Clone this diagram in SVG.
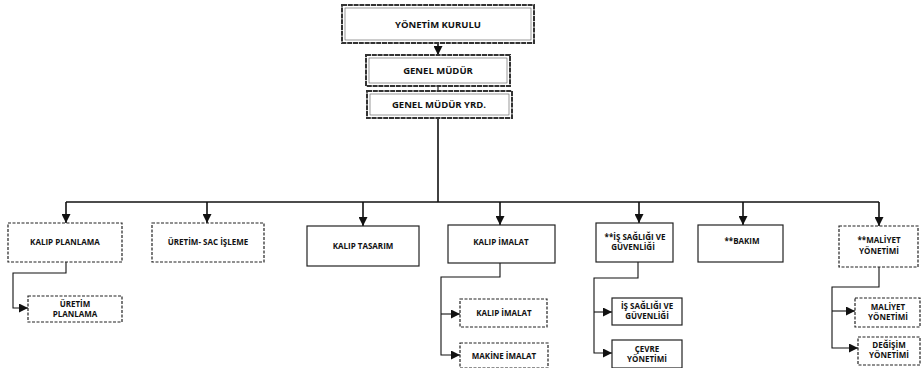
<svg xmlns="http://www.w3.org/2000/svg" width="922" height="368" viewBox="0 0 922 368">
<defs>
<marker id="arr" viewBox="0 0 10 10" refX="10" refY="5" markerWidth="9" markerHeight="9" markerUnits="userSpaceOnUse" orient="auto">
<path d="M0,0 L10,5 L0,10 z" fill="#111"/>
</marker>
</defs>
<style>
.box{fill:#fff;stroke:#222;stroke-width:1.2}
.dash{stroke-dasharray:3 1.5}
.dbl{fill:#fff;stroke:#333;stroke-width:2;stroke-dasharray:5 0.8}
.inner{fill:none;stroke:#555;stroke-width:0.6}
text{font-family:"Open Sans","Liberation Sans",sans-serif;font-weight:700;fill:#111;text-anchor:middle;font-size:8px}
.big{font-size:9.5px}
.line{fill:none;stroke:#111;stroke-width:1.6}
.thin{fill:none;stroke:#111;stroke-width:1.1}
</style>
<rect width="922" height="368" fill="#fff"/>
<g id="connectors">
<path class="line" d="M438,43 V55" marker-end="url(#arr)"/>
<path class="thin" d="M438,86 V91"/>
<path class="line" d="M438,118 V202"/>
<path class="line" d="M66,202 H879"/>
<path class="line" d="M66,202 V223" marker-end="url(#arr)"/>
<path class="line" d="M207,202 V223" marker-end="url(#arr)"/>
<path class="line" d="M363,202 V226" marker-end="url(#arr)"/>
<path class="line" d="M500,202 V225" marker-end="url(#arr)"/>
<path class="line" d="M639,202 V223" marker-end="url(#arr)"/>
<path class="line" d="M743,202 V225" marker-end="url(#arr)"/>
<path class="line" d="M879,202 V226" marker-end="url(#arr)"/>
<path class="thin" d="M66,262 V273 H13 V308 H28" marker-end="url(#arr)"/>
<path class="thin" d="M500,263 V277 H441 V355 H460" marker-end="url(#arr)"/>
<path class="thin" d="M441,314 H460" marker-end="url(#arr)"/>
<path class="thin" d="M638,262 V278 H594 V353 H612" marker-end="url(#arr)"/>
<path class="thin" d="M594,312 H612" marker-end="url(#arr)"/>
<path class="thin" d="M879,267 V287 H832 V348 H858" marker-end="url(#arr)"/>
<path class="thin" d="M832,311 H855" marker-end="url(#arr)"/>
</g>
<g id="n-yonetim-kurulu"><rect class="dbl" x="342" y="5" width="192" height="38"/><rect class="inner" x="345" y="8" width="186" height="32"/><text class="big" x="438" y="28">YÖNETİM KURULU</text></g>
<g id="n-genel-mudur"><rect class="dbl" x="366" y="55" width="144" height="31"/><rect class="inner" x="369" y="58" width="138" height="25"/><text class="big" x="438" y="74">GENEL MÜDÜR</text></g>
<g id="n-genel-mudur-yrd"><rect class="dbl" x="367" y="91" width="145" height="27"/><rect class="inner" x="370" y="94" width="139" height="21"/><text class="big" x="439" y="108">GENEL MÜDÜR YRD.</text></g>
<g id="n-kalip-planlama"><rect class="box dash" x="8" y="223" width="114" height="39"/><text x="65" y="245">KALIP PLANLAMA</text></g>
<g id="n-uretim-sac"><rect class="box dash" x="152" y="223" width="112" height="39"/><text x="208" y="245">ÜRETİM- SAC İŞLEME</text></g>
<g id="n-kalip-tasarim"><rect class="box" x="307" y="226" width="112" height="40"/><text x="363" y="249">KALIP TASARIM</text></g>
<g id="n-kalip-imalat"><rect class="box" x="448" y="225" width="107" height="38"/><text x="501" y="245">KALIP İMALAT</text></g>
<g id="n-is-sagligi"><rect class="box" x="596" y="223" width="77" height="39"/><text x="635" y="240">**İŞ SAĞLIĞI VE</text><text x="633" y="250">GÜVENLİĞİ</text></g>
<g id="n-bakim"><rect class="box" x="698" y="225" width="85" height="37"/><text x="742" y="244">**BAKIM</text></g>
<g id="n-maliyet"><rect class="box dash" x="839" y="226" width="79" height="41"/><text x="879" y="243">**MALİYET</text><text x="879" y="254">YÖNETİMİ</text></g>
<g id="n-uretim-planlama"><rect class="box dash" x="28" y="296" width="94" height="26"/><text x="75" y="307">ÜRETİM</text><text x="75" y="317">PLANLAMA</text></g>
<g id="n-kalip-imalat-2"><rect class="box dash" x="460" y="299" width="87" height="28"/><text x="504" y="316">KALIP İMALAT</text></g>
<g id="n-makine-imalat"><rect class="box dash" x="460" y="343" width="88" height="25"/><text x="504" y="359">MAKİNE İMALAT</text></g>
<g id="n-is-sagligi-2"><rect class="box" x="612" y="298" width="70" height="27"/><text x="647" y="309">İŞ SAĞLIĞI VE</text><text x="647" y="319">GÜVENLİĞİ</text></g>
<g id="n-cevre"><rect class="box" x="612" y="340" width="70" height="28"/><text x="647" y="352">ÇEVRE</text><text x="647" y="362">YÖNETİMİ</text></g>
<g id="n-maliyet-2"><rect class="box dash" x="855" y="298" width="65" height="29"/><text x="888" y="310">MALİYET</text><text x="888" y="320">YÖNETİMİ</text></g>
<g id="n-degisim"><rect class="box dash" x="858" y="337" width="62" height="28"/><text x="889" y="348">DEĞİŞİM</text><text x="889" y="358">YÖNETİMİ</text></g>
</svg>
